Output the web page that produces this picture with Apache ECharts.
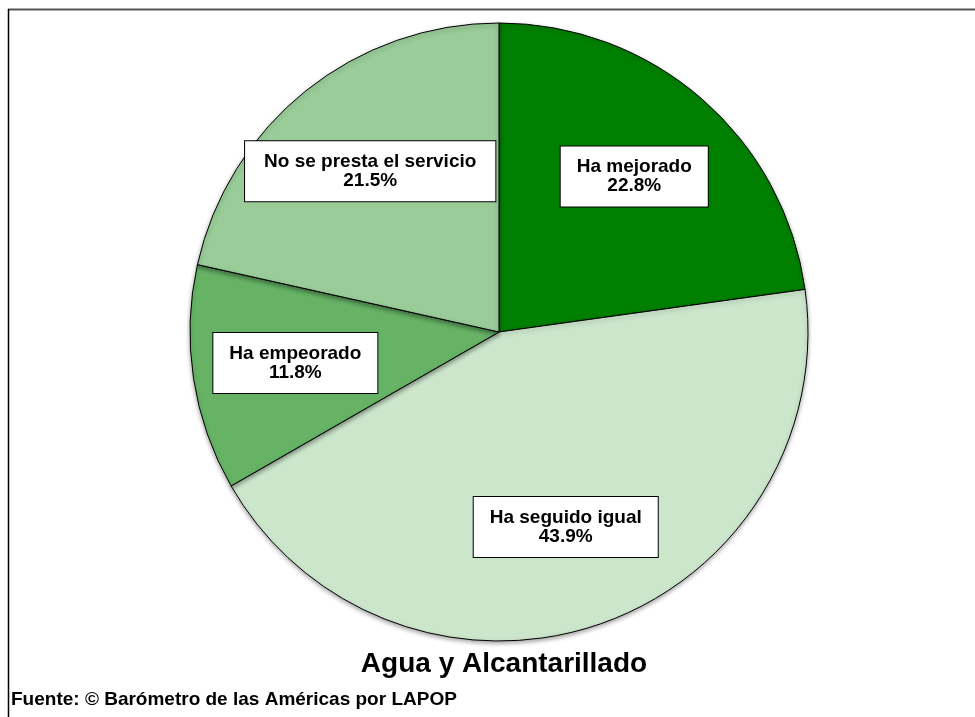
<!DOCTYPE html>
<html>
<head>
<meta charset="utf-8">
<script src="https://cdn.jsdelivr.net/npm/echarts@6/dist/echarts.min.js"></script>
<style>
  html, body { margin: 0; padding: 0; background: #fff; }
  #chart { width: 975px; height: 717px; }
</style>
</head>
<body>
<div id="chart"></div>
<script>
// Opinión sobre el servicio de agua y alcantarillado
const categories = ['Ha mejorado', 'Ha seguido igual', 'Ha empeorado', 'No se presta el servicio'];
const percents = [22.8, 43.9, 11.8, 21.5];
const sliceColors = ['#008000', '#cce6cc', '#66b366', '#99cc99'];
const chartTitle = 'Agua y Alcantarillado';
const sourceNote = 'Fuente: © Barómetro de las Américas por LAPOP';

const FONT = 'Arial, "Liberation Sans", sans-serif';
const center = [499, 332];
const R = 309;

const sliceData = categories.map((name, i) => ({
  name,
  value: percents[i],
  itemStyle: { color: sliceColors[i] }
}));

// invisible ring carrying the boxed labels at about two thirds of the radius
const labelData = categories.map((name, i) => ({
  name,
  value: percents[i],
  label: { padding: i === 3 ? [11, 19, 11, 19] : [11, 16, 11, 16] }
}));

const chart = echarts.init(document.getElementById('chart'), null, { renderer: 'canvas' });
chart.setOption({
  animation: false,
  backgroundColor: '#ffffff',
  title: [
    {
      text: chartTitle,
      left: 499, top: 645, textAlign: 'center',
      textStyle: { fontFamily: FONT, fontSize: 28, fontWeight: 'bold', color: '#000' }
    },
    {
      text: sourceNote,
      left: 6, top: 685,
      textStyle: { fontFamily: FONT, fontSize: 19, fontWeight: 'bold', color: '#000' }
    }
  ],
  graphic: [
    { type: 'line', shape: { x1: 8, y1: 9.5, x2: 975, y2: 9.5 }, style: { stroke: '#555', lineWidth: 2 } },
    { type: 'line', shape: { x1: 8.5, y1: 9, x2: 8.5, y2: 717 }, style: { stroke: '#000', lineWidth: 1.5 } }
  ],
  series: [
    {
      type: 'pie',
      center, radius: R,
      startAngle: 90, clockwise: true,
      silent: true,
      label: { show: false }, labelLine: { show: false },
      itemStyle: {
        borderColor: '#000', borderWidth: 1,
        shadowColor: 'rgba(0,0,0,0.35)', shadowBlur: 4, shadowOffsetY: 2
      },
      data: sliceData
    },
    {
      type: 'pie',
      center, radius: [197, 209],
      startAngle: 90, clockwise: true,
      silent: true,
      itemStyle: { color: 'transparent', borderWidth: 0 },
      labelLine: { show: false },
      label: {
        show: true, position: 'inside',
        formatter: p => p.name + '\n' + p.value.toFixed(1) + '%',
        fontFamily: FONT, fontSize: 19, fontWeight: 'bold', lineHeight: 19,
        color: '#000', align: 'center',
        backgroundColor: '#fff', borderColor: '#000', borderWidth: 1
      },
      data: labelData
    }
  ]
});
</script>
</body>
</html>
